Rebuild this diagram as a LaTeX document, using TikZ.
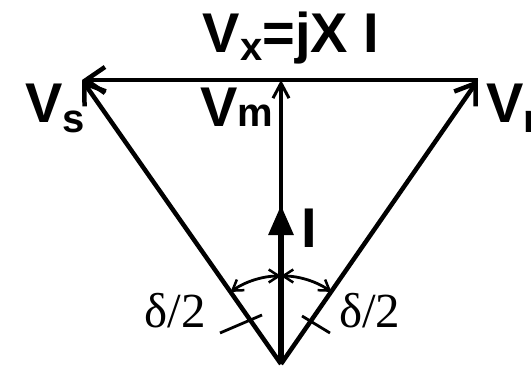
\documentclass[tikz,border=0pt]{standalone}
\usepackage{fontspec}
\setmainfont{Liberation Sans}
\newfontfamily\serifgr{Liberation Serif}
\usetikzlibrary{arrows.meta}
\tikzset{
  phasor/.style={line width=4.5pt, -{Straight Barb[length=19pt,width=26pt,line width=4.5pt]}},
  thinphasor/.style={line width=3.5pt, -{Straight Barb[length=15pt,width=16pt,line width=3pt]}},
  current/.style={line width=6pt, -{Triangle[length=30pt,width=24pt]}},
  anglearc/.style={line width=2.8pt, {Straight Barb[length=10pt,width=13pt,line width=2.5pt]}-{Straight Barb[length=10pt,width=13pt,line width=2.5pt]}},
  tick/.style={line width=2.8pt},
  lbl/.style={font=\bfseries\fontsize{56}{56}\selectfont, inner sep=0pt},
  anglbl/.style={font=\serifgr\fontsize{49}{49}\selectfont, inner sep=0pt}
}
\newcommand{\subl}[2]{\raisebox{#1}{\fontsize{40}{40}\selectfont #2}}
\begin{document}
\begin{tikzpicture}[x=1pt,y=1pt]
\useasboundingbox (0,0) rectangle (531,373);
\coordinate (O) at (281,9);
\coordinate (S) at (82,293);
\coordinate (R) at (478,293);
\coordinate (M) at (281,293);
\coordinate (Itip) at (281,168);
% phasors
\draw[phasor] (O) -- (S);
\draw[phasor] (O) -- (R);
\draw[phasor] (R) -- (S);
\draw[thinphasor] (O) -- (M);
\draw[current] (O) -- (Itip);
% angle arcs
\draw[anglearc] (O) ++(90:88) arc[start angle=90, end angle=125, radius=88];
\draw[anglearc] (O) ++(90:88) arc[start angle=90, end angle=55, radius=88];
% tick marks
\coordinate (t1a) at (220,40); \coordinate (t1b) at (262,58);
\coordinate (t2a) at (302,57); \coordinate (t2b) at (330,40);
\draw[tick] (t1a) -- (t1b);
\draw[tick] (t2a) -- (t2b);
% labels
\node[lbl, anchor=base] (vx) at (291,320) {V\subl{-8pt}{x}=jX I};
\node[lbl, anchor=base west] (vs) at (25,250) {V\subl{-9pt}{s}};
\node[lbl, anchor=base west] (vm) at (200,246) {V\subl{0pt}{m}};
\node[lbl, anchor=base west] (vr) at (486,250) {V\subl{-9pt}{r}};
\node[lbl, anchor=base west] (il) at (301,125) {I};
\node[anglbl, anchor=base east] (d1) at (206,46) {δ/2};
\node[anglbl, anchor=base west] (d2) at (339,46) {δ/2};
\end{tikzpicture}
\end{document}
